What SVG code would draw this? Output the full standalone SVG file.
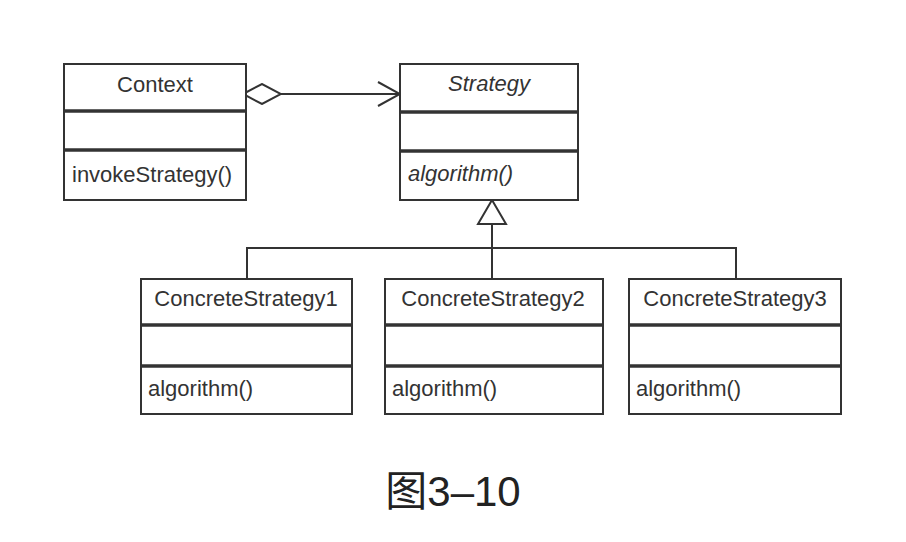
<svg xmlns="http://www.w3.org/2000/svg" width="906" height="542" viewBox="0 0 906 542">
<style>
.box{fill:#fff;stroke:#333;stroke-width:2}
.div{stroke:#333;stroke-width:3.5}
.t{font-family:"Liberation Sans",Arial,sans-serif;font-size:22px;fill:#333}
.c{text-anchor:middle}
.i{font-style:italic}
.con{fill:none;stroke:#333;stroke-width:2}
.cap{font-family:"Liberation Sans","Noto Sans CJK SC",sans-serif;font-size:42px;fill:#222}
</style>
<defs>
<marker id="diamond" markerUnits="userSpaceOnUse" viewBox="0 0 40 22" refX="1" refY="11" markerWidth="40" markerHeight="22" orient="auto">
<path d="M1,11 L20,1 L39,11 L20,21 Z" fill="#fff" stroke="#333" stroke-width="2"/>
</marker>
<marker id="open" markerUnits="userSpaceOnUse" viewBox="0 0 24 28" refX="23" refY="14" markerWidth="24" markerHeight="28" orient="auto">
<path d="M1,2 L23,14 L1,26" fill="none" stroke="#333" stroke-width="2"/>
</marker>
<marker id="tri" markerUnits="userSpaceOnUse" viewBox="0 0 26 32" refX="25" refY="16" markerWidth="26" markerHeight="32" orient="auto">
<path d="M1,2 L25,16 L1,30 Z" fill="#fff" stroke="#333" stroke-width="2"/>
</marker>
</defs>
<rect width="906" height="542" fill="#fff"/>
<g id="connectors">
<path class="con" d="M243,94 H400" marker-start="url(#diamond)" marker-end="url(#open)"/>
<path class="con" d="M247,279 V248 H736 V279"/>
<path class="con" d="M492,278 V200" marker-end="url(#tri)"/>
</g>
<g id="context">
<rect class="box" x="64" y="64" width="182" height="136"/>
<line class="div" x1="64" y1="111" x2="246" y2="111"/>
<line class="div" x1="64" y1="150" x2="246" y2="150"/>
<text class="t c" x="155" y="92">Context</text>
<text class="t" x="72" y="182">invokeStrategy()</text>
</g>
<g id="strategy">
<rect class="box" x="400" y="64" width="178" height="136"/>
<line class="div" x1="400" y1="112" x2="578" y2="112"/>
<line class="div" x1="400" y1="151" x2="578" y2="151"/>
<text class="t c i" x="489" y="91">Strategy</text>
<text class="t i" x="408" y="181">algorithm()</text>
</g>
<g id="concrete1">
<rect class="box" x="141" y="279" width="211" height="135"/>
<line class="div" x1="141" y1="325" x2="352" y2="325"/>
<line class="div" x1="141" y1="366" x2="352" y2="366"/>
<text class="t c" x="246" y="306">ConcreteStrategy1</text>
<text class="t" x="148" y="396">algorithm()</text>
</g>
<g id="concrete2">
<rect class="box" x="385" y="279" width="218" height="135"/>
<line class="div" x1="385" y1="325" x2="603" y2="325"/>
<line class="div" x1="385" y1="366" x2="603" y2="366"/>
<text class="t c" x="493" y="306">ConcreteStrategy2</text>
<text class="t" x="392" y="396">algorithm()</text>
</g>
<g id="concrete3">
<rect class="box" x="629" y="279" width="212" height="135"/>
<line class="div" x1="629" y1="325" x2="841" y2="325"/>
<line class="div" x1="629" y1="366" x2="841" y2="366"/>
<text class="t c" x="735" y="306">ConcreteStrategy3</text>
<text class="t" x="636" y="396">algorithm()</text>
</g>
<text class="cap" x="453" y="506" text-anchor="middle">图3–10</text>
</svg>
